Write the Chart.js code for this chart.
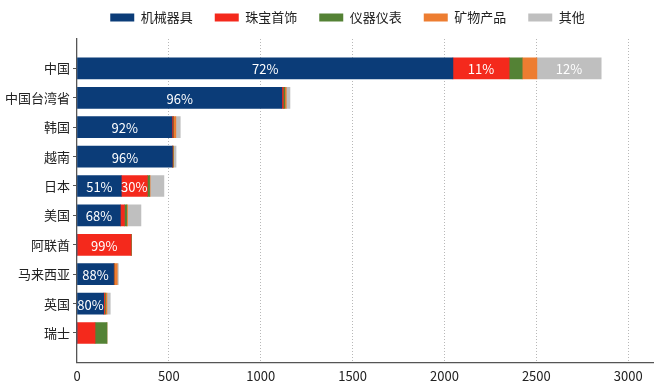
<!DOCTYPE html>
<html>
<head>
<meta charset="utf-8">
<script src="https://cdn.jsdelivr.net/npm/chart.js@4/dist/chart.umd.min.js"></script>
<style>
  body { margin: 0; background: #fff; }
</style>
</head>
<body>
<canvas id="grafico" width="660" height="390"></canvas>
<script>
// categorias e séries
var paises = ["中国", "中国台湾省", "韩国", "越南", "日本", "美国", "阿联酋", "马来西亚", "英国", "瑞士"];
var series = ["机械器具", "珠宝首饰", "仪器仪表", "矿物产品", "其他"];

var jiqi    = [2046, 1115, 517, 519, 241, 236, 0,   199, 145, 0];
var zhubao  = [306,  8,    6,   2,   142, 22,  294, 3,   5,   98];
var yiqi    = [71,   8,    3,   2,   12,  12,  2,   2,   5,   65];
var kuangwu = [80,   8,    12,  3,   3,   5,   0,   15,  8,   0];
var qita    = [350,  20,   24,  13,  75,  73,  1,   6,   18,  0];

var rotJiqi   = ["72%", "96%", "92%", "96%", "51%", "68%", "", "88%", "80%", ""];
var rotZhubao = ["11%", "", "", "", "30%", "", "99%", "", "", ""];
var rotQita   = ["12%", "", "", "", "", "", "", "", "", ""];

var xTicks = [0, 500, 1000, 1500, 2000, 2500, 3000];

var cores = ["#0b3c78", "#f4291c", "#548235", "#ed7d31", "#bfbfbf"];
var fonte = "'Noto Sans CJK SC', 'Noto Sans', sans-serif";

// linha vazia em cima e em baixo para deixar meia faixa de margem
function pad(a) { return [null].concat(a).concat([null]); }

var dados = [jiqi, zhubao, yiqi, kuangwu, qita];
var rotulos = [rotJiqi, rotZhubao, null, null, rotQita];

var datasets = [];
for (var i = 0; i < series.length; i++) {
  datasets.push({
    label: series[i],
    data: pad(dados[i]),
    rotulos: rotulos[i] ? pad(rotulos[i]) : null,
    backgroundColor: cores[i],
    borderWidth: 0,
    barThickness: 21
  });
}

var rotulosPlugin = {
  id: 'rotulos',
  afterLayout: function (chart) {
    // legenda um pouco para a direita e para cima
    var lg = chart.legend;
    lg.left += 21; lg.right += 21;
    lg.top -= 5; lg.bottom -= 5;
  },
  afterDatasetsDraw: function (chart) {
    var ctx = chart.ctx;
    ctx.save();
    ctx.font = "13px " + fonte;
    ctx.fillStyle = "#ffffff";
    ctx.textAlign = "center";
    ctx.textBaseline = "middle";
    chart.data.datasets.forEach(function (ds, di) {
      if (!ds.rotulos) return;
      var meta = chart.getDatasetMeta(di);
      meta.data.forEach(function (el, j) {
        var txt = ds.rotulos[j];
        if (!txt) return;
        ctx.fillText(txt, (el.x + el.base) / 2, el.y + 1);
      });
    });
    ctx.restore();
  }
};

var context = document.getElementById('grafico').getContext('2d');
var grafico = new Chart(context, {
  type: 'bar',
  data: {
    labels: pad(paises).map(function (p) { return p || ""; }),
    datasets: datasets
  },
  options: {
    responsive: false,
    animation: false,
    indexAxis: 'y',
    layout: { padding: { left: 0, right: 7, top: -6, bottom: 0 } },
    plugins: {
      legend: {
        position: 'top',
        labels: {
          boxWidth: 24,
          boxHeight: 8,
          padding: 22,
          color: '#222',
          font: { family: fonte, size: 13 }
        }
      },
      tooltip: { enabled: false }
    },
    scales: {
      x: {
        stacked: true,
        min: 0,
        max: 3135,
        afterBuildTicks: function (axis) {
          axis.ticks = xTicks.map(function (v) { return { value: v }; });
        },
        ticks: {
          color: '#222',
          padding: 6,
          font: { family: fonte, size: 13 },
          callback: function (v) { return String(v); }
        },
        grid: {
          drawTicks: false,
          color: function (c) { return c.tick && c.tick.value === 0 ? 'transparent' : '#b8b8b8'; },
          lineWidth: 1
        },
        border: { color: '#555', width: 1.3, dash: [1, 2] }
      },
      y: {
        stacked: true,
        offset: false,
        afterFit: function (axis) { axis.width = 77; },
        ticks: {
          color: '#222',
          padding: 3,
          autoSkip: false,
          font: { family: fonte, size: 13 }
        },
        grid: {
          offset: false,
          drawOnChartArea: false,
          tickLength: 4,
          color: function (c) { return c.tick && c.tick.label ? '#555' : 'transparent'; }
        },
        border: { color: '#555', width: 1.3 }
      }
    }
  },
  plugins: [rotulosPlugin]
});
</script>
</body>
</html>
